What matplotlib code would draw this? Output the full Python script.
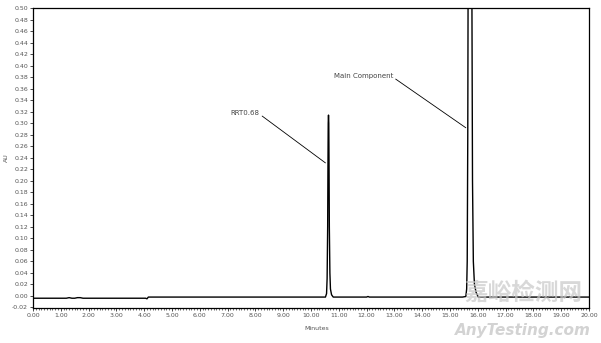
import matplotlib.pyplot as plt
import numpy as np

# chromatogram trace (minutes, AU)
times = [0.00, 1.20, 1.30, 1.40, 1.50, 1.60, 1.70, 1.80, 1.90, 4.05, 4.10, 4.15,
         10.40, 10.52, 10.56, 10.58, 10.60, 10.61, 10.62, 10.63, 10.64, 10.65, 10.66,
         10.68, 10.70, 10.74, 10.80, 12.00, 12.05, 12.10, 15.45,
         15.57, 15.60, 15.62, 15.64, 15.65, 15.68, 15.72, 15.76, 15.79, 15.81,
         15.84, 15.88, 15.94, 16.02, 20.00]
au = [-0.004, -0.004, -0.003, -0.004, -0.004, -0.003, -0.003, -0.004, -0.004, -0.004, -0.005, -0.002,
      -0.002, -0.002, 0.004, 0.03, 0.12, 0.22, 0.30, 0.314, 0.30, 0.22, 0.12,
      0.04, 0.012, 0.002, -0.002, -0.002, -0.001, -0.002, -0.002,
      -0.001, 0.012, 0.06, 0.28, 0.50, 1.00, 1.30, 1.00, 0.50, 0.20,
      0.06, 0.02, 0.006, -0.002, -0.002]

xticks = np.arange(0, 21, 1)
yticks = np.arange(-0.02, 0.51, 0.02)

fig = plt.figure(figsize=(6.01, 3.43), dpi=100)
ax = fig.add_axes([0.0549, 0.102, 0.9251, 0.8747])
ax.plot(times, au, color='black', lw=1.0)

ax.set_xlim(0, 20)
ax.set_ylim(-0.021, 0.50)
ax.set_xticks(xticks)
ax.set_xticklabels([f"{t:.2f}" for t in xticks])
ax.set_xticks(np.arange(0, 20.01, 0.1), minor=True)
ax.set_yticks(yticks)
ax.set_yticklabels([f"{v:.2f}" for v in yticks])
ax.tick_params(labelsize=4.5, labelcolor='#555555', length=2, width=0.5, pad=1.5)
ax.tick_params(which='minor', length=1.2, width=0.4)
for s in ax.spines.values():
    s.set_linewidth(0.9)

ax.set_xlabel("Minutes", fontsize=4.5, color='#555555', labelpad=6, x=0.51)
ax.set_ylabel("AU", fontsize=4.5, color='#555555', labelpad=2)

ax.annotate("RRT0.68", xy=(10.52, 0.231), xytext=(7.10, 0.318),
            fontsize=5, color='#444444', va='center',
            arrowprops=dict(arrowstyle='-', lw=0.6, color='black', shrinkA=0, shrinkB=0,
                            relpos=(1.0, 0.3)))
ax.annotate("Main Component", xy=(15.57, 0.292), xytext=(10.81, 0.382),
            fontsize=5, color='#444444', va='center',
            arrowprops=dict(arrowstyle='-', lw=0.6, color='black', shrinkA=0, shrinkB=0,
                            relpos=(1.0, 0.3)))

# watermark
fig.text(0.87, 0.145, "嘉峪检测网", fontsize=17, color='#c8c8c8', alpha=0.7,
         ha='center', va='center', family=['Noto Sans CJK SC', 'DejaVu Sans'], weight='bold')
fig.text(0.87, 0.035, "AnyTesting.com", fontsize=11, color='#c8c8c8', alpha=0.8,
         ha='center', va='center', style='italic', weight='bold')

fig.savefig("out.png", dpi=100)
